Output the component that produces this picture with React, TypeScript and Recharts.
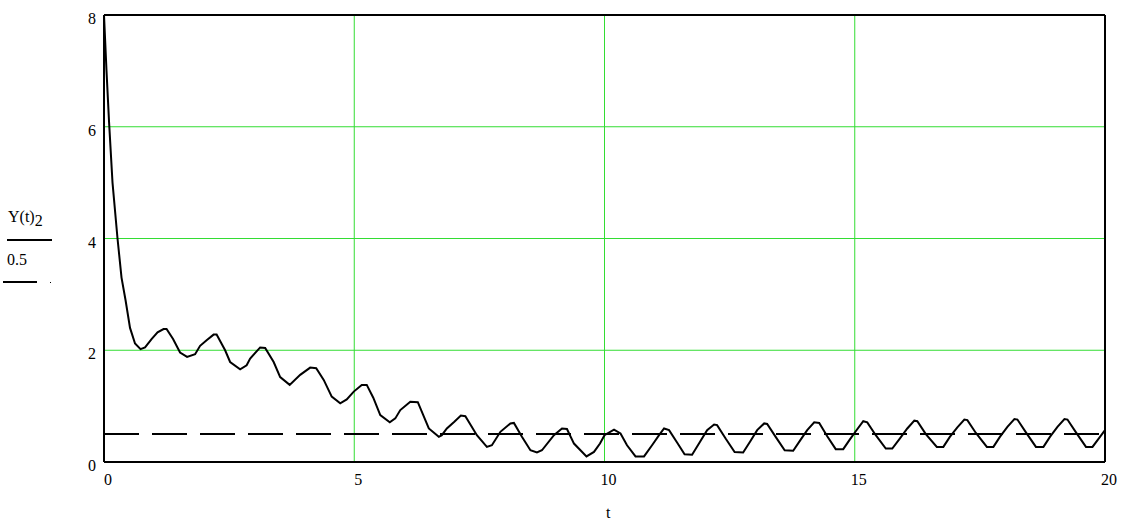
import React from "react";
import { LineChart, Line, XAxis, YAxis, CartesianGrid, ReferenceLine } from "recharts";

const tValues = [
  0, 0.05, 0.1, 0.17, 0.27, 0.35, 0.43, 0.52, 0.62, 0.73, 0.82, 0.95, 1.07, 1.19, 1.25, 1.38, 1.52, 1.66, 1.82, 1.92,
  2.05, 2.19, 2.25, 2.42, 2.52, 2.72, 2.85, 2.92, 3.12, 3.22, 3.39, 3.52, 3.71, 3.92, 4.12, 4.24, 4.39, 4.55, 4.72, 4.85,
  4.99, 5.15, 5.25, 5.38, 5.52, 5.71, 5.82, 5.92, 6.12, 6.27, 6.49, 6.69, 6.75, 6.85, 7.0, 7.13, 7.22, 7.45, 7.65, 7.75,
  7.92, 8.12, 8.19, 8.35, 8.52, 8.65, 8.75, 8.99, 9.15, 9.25, 9.39, 9.64, 9.79, 9.91, 10.0, 10.19, 10.32, 10.45, 10.62, 10.79,
  10.95, 11.09, 11.19, 11.29, 11.45, 11.6, 11.75, 11.9, 12.05, 12.19, 12.25, 12.42, 12.6, 12.77, 12.92, 13.05, 13.19, 13.25, 13.42, 13.6,
  13.77, 13.92, 14.05, 14.19, 14.29, 14.45, 14.62, 14.77, 14.9, 15.02, 15.17, 15.25, 15.42, 15.62, 15.75, 15.9, 16.05, 16.19, 16.25, 16.42,
  16.64, 16.77, 16.9, 17.05, 17.19, 17.25, 17.42, 17.64, 17.77, 17.9, 18.05, 18.19, 18.25, 18.42, 18.62, 18.77, 18.9, 19.05, 19.19, 19.25,
  19.42, 19.62, 19.75, 19.9, 20.0,
];

const yValues = [
  8.0, 7.0, 6.1, 5.0, 4.0, 3.3, 2.9, 2.4, 2.12, 2.02, 2.05, 2.2, 2.32, 2.38, 2.38, 2.2, 1.96, 1.88, 1.93, 2.08,
  2.18, 2.28, 2.28, 2.0, 1.79, 1.66, 1.73, 1.85, 2.05, 2.04, 1.79, 1.52, 1.38, 1.56, 1.69, 1.68, 1.47, 1.17, 1.05, 1.12,
  1.26, 1.38, 1.38, 1.15, 0.84, 0.71, 0.78, 0.93, 1.08, 1.07, 0.6, 0.45, 0.48, 0.6, 0.72, 0.83, 0.82, 0.48, 0.27, 0.3,
  0.54, 0.69, 0.7, 0.45, 0.21, 0.17, 0.21, 0.48, 0.6, 0.59, 0.33, 0.1, 0.18, 0.33, 0.48, 0.58, 0.51, 0.3, 0.1, 0.1,
  0.3, 0.48, 0.6, 0.57, 0.35, 0.14, 0.13, 0.35, 0.57, 0.67, 0.66, 0.42, 0.18, 0.17, 0.38, 0.57, 0.69, 0.68, 0.45, 0.21,
  0.2, 0.4, 0.57, 0.71, 0.7, 0.46, 0.23, 0.23, 0.4, 0.55, 0.73, 0.71, 0.48, 0.24, 0.24, 0.42, 0.6, 0.74, 0.73, 0.5,
  0.27, 0.27, 0.45, 0.62, 0.76, 0.75, 0.52, 0.27, 0.27, 0.45, 0.63, 0.77, 0.76, 0.53, 0.27, 0.27, 0.45, 0.63, 0.77, 0.76,
  0.53, 0.27, 0.27, 0.45, 0.57,
];

const refLevel = 0.5;
const xTicks = [0, 5, 10, 15, 20];
const yTicks = [0, 2, 4, 6, 8];
const xLabel = "t";

const data = tValues.map((t, i) => ({ t, y: yValues[i] }));

const FONT = "Liberation Serif";

const XTick = (props: any) => {
  const { x, y, payload } = props;
  return (
    <text x={x + 4} y={y + 15} textAnchor="middle" fontFamily={FONT} fontSize={16} fill="#000">
      {payload.value}
    </text>
  );
};

const YTick = (props: any) => {
  const { x, y, payload } = props;
  return (
    <text x={x - 0} y={y + 9} textAnchor="end" fontFamily={FONT} fontSize={16} fill="#000">
      {payload.value}
    </text>
  );
};

export default function App() {
  return (
    <div style={{ position: "absolute", left: 0, top: 0, width: 1122, height: 526, background: "#fff", fontFamily: FONT }}>
      <LineChart
        width={1122}
        height={526}
        data={data}
        margin={{ top: 15, right: 17, bottom: 34, left: 64 }}
      >
        <CartesianGrid stroke="#33dd33" strokeWidth={1} />
        <XAxis
          type="number"
          dataKey="t"
          domain={[0, 20]}
          ticks={xTicks}
          height={30}
          tickLine={false}
          axisLine={{ stroke: "#000", strokeWidth: 2 }}
          tick={<XTick />}
          interval={0}
        />
        <YAxis
          type="number"
          domain={[0, 8]}
          ticks={yTicks}
          width={40}
          tickLine={false}
          axisLine={{ stroke: "#000", strokeWidth: 2 }}
          tick={<YTick />}
          interval={0}
        />
        <ReferenceLine y={8} stroke="#000" strokeWidth={2} />
        <ReferenceLine x={20} stroke="#000" strokeWidth={2} />
        <ReferenceLine y={refLevel} stroke="#000" strokeWidth={2} strokeDasharray="35 13" />
        <Line
          type="linear"
          dataKey="y"
          stroke="#000"
          strokeWidth={2}
          dot={false}
          isAnimationActive={false}
        />
      </LineChart>
      <div style={{ position: "absolute", left: 606, top: 504, fontSize: 16, lineHeight: "18px" }}>{xLabel}</div>
      <div style={{ position: "absolute", left: 8, top: 208, fontSize: 16, lineHeight: "18px", whiteSpace: "nowrap" }}>
        Y(t)<span style={{ fontSize: 16, position: "relative", top: 4 }}>2</span>
      </div>
      <div style={{ position: "absolute", left: 7, top: 239, width: 45, height: 2, background: "#000" }} />
      <div style={{ position: "absolute", left: 7, top: 251, fontSize: 16, lineHeight: "18px" }}>0.5</div>
      <div style={{ position: "absolute", left: 3, top: 281, width: 34, height: 2, background: "#000" }} />
      <div style={{ position: "absolute", left: 50, top: 282, width: 1, height: 1, background: "#000" }} />
    </div>
  );
}
